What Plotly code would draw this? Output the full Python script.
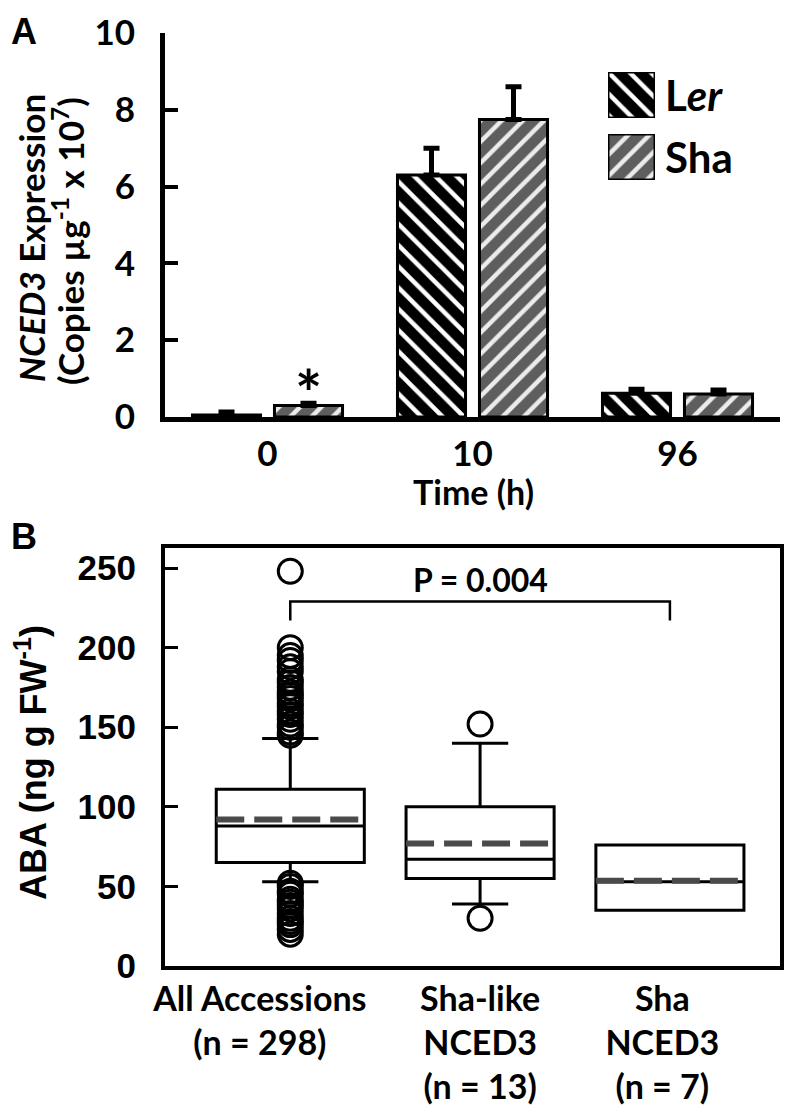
import plotly.graph_objects as go

# ---- panel A data: NCED3 expression (copies ug-1 x 10^7)
times = ["0", "10", "96"]
ler_vals = [0.05, 6.3, 0.62]
ler_err = [0.08, 0.7, 0.1]
sha_vals = [0.3, 7.75, 0.6]
sha_err = [0.06, 0.85, 0.1]

# ---- panel B data: ABA (ng g FW-1), summary stats per group
groups = ["All Accessions<br>(n = 298)", "Sha-like<br>NCED3<br>(n = 13)", "Sha<br>NCED3<br>(n = 7)"]
q1 = [65, 55, 35]
medians = [88, 67, 53]
q3 = [111, 100, 76]
lower_fence = [53, 39, 35]
upper_fence = [143, 140, 76]
means = [92, 77, 53.5]
outliers_all = [20, 23, 26, 28, 30, 33, 36, 38, 40, 42, 45, 47, 50, 52,
                145, 147, 150, 152, 155, 158, 160, 163, 165, 168, 170, 172,
                175, 178, 180, 185, 188, 192, 195, 200, 248]
outliers_shalike = [30, 152]
outliers_sha = []
p_text = "P = 0.004"

W, H = 797, 1107
OFF = 8  # page body margin in the browser
CAL = "Lato, 'Open Sans', sans-serif"
ARIAL = "'Liberation Sans', Arial, sans-serif"
LABEL_SHIFT = [-0.16, 0.0, -0.04]  # category labels sit a little left of the boxes


def px_x(p):
    return (p - OFF) / W


def px_y(p):
    return 1 - (p - OFF) / H


fig = go.Figure()

ler_pattern = dict(shape="\\", fgcolor="white", bgcolor="black", size=15, solidity=0.3, fillmode="replace")
sha_pattern = dict(shape="/", fgcolor="#ececec", bgcolor="#5e5e5e", size=15, solidity=0.3, fillmode="replace")

fig.add_trace(go.Bar(
    x=times, y=ler_vals, name="Ler",
    marker=dict(color="black", pattern=ler_pattern, line=dict(color="black", width=3)),
    error_y=dict(type="data", symmetric=False, array=ler_err, arrayminus=[0] * 3,
                 thickness=5, width=8, color="black"),
    showlegend=False, xaxis="x", yaxis="y",
))
fig.add_trace(go.Bar(
    x=times, y=sha_vals, name="Sha",
    marker=dict(color="#5e5e5e", pattern=sha_pattern, line=dict(color="black", width=3)),
    error_y=dict(type="data", symmetric=False, array=sha_err, arrayminus=[0] * 3,
                 thickness=5, width=8, color="black"),
    showlegend=False, xaxis="x", yaxis="y",
))

# legend swatches drawn as single bars on small hidden axes
fig.add_trace(go.Bar(x=[0], y=[1], width=[1], marker=dict(color="black", pattern=ler_pattern,
              line=dict(color="black", width=3)), showlegend=False, xaxis="x3", yaxis="y3"))
fig.add_trace(go.Bar(x=[0], y=[1], width=[1], marker=dict(color="#5e5e5e", pattern=sha_pattern,
              line=dict(color="black", width=3)), showlegend=False, xaxis="x4", yaxis="y4"))

# ---- panel B boxes
BOX_W = 0.78
for i in range(3):
    fig.add_trace(go.Box(
        x=[i], q1=[q1[i]], median=[medians[i]], q3=[q3[i]],
        lowerfence=[lower_fence[i]], upperfence=[upper_fence[i]],
        width=BOX_W, whiskerwidth=0.38, fillcolor="white",
        line=dict(color="black", width=3), boxpoints=False,
        showlegend=False, xaxis="x2", yaxis="y2",
    ))
    fig.add_trace(go.Scatter(
        x=[i - BOX_W / 2, i + BOX_W / 2], y=[means[i], means[i]], mode="lines",
        line=dict(color="#4a4a4a", width=6, dash="28px,10px"),
        showlegend=False, xaxis="x2", yaxis="y2",
    ))

for i, pts in enumerate([outliers_all, outliers_shalike, outliers_sha]):
    if pts:
        fig.add_trace(go.Scatter(
            x=[i] * len(pts), y=pts, mode="markers",
            marker=dict(symbol="circle-open", size=24, color="black", line=dict(width=3)),
            showlegend=False, xaxis="x2", yaxis="y2",
        ))

# significance bracket
fig.add_shape(type="path", xref="x2", yref="y2",
              path="M 0,217 L 0,229 L 2,229 L 2,217",
              line=dict(color="black", width=2.5))


def note(x, y, text, family, size, angle=0, xanchor="center", yanchor="middle"):
    return dict(x=px_x(x), y=px_y(y), xref="paper", yref="paper", text=text,
                textangle=angle, showarrow=False, xanchor=xanchor, yanchor=yanchor,
                font=dict(family=family, size=size, color="black"))


ann = [
    dict(x=1, y=229, xref="x2", yref="y2", text="<b>" + p_text + "</b>", showarrow=False,
         xanchor="center", yanchor="bottom", font=dict(family=CAL, size=32, color="black")),
    dict(x=0, y=sha_vals[0] + sha_err[0], xref="x", yref="y", xshift=41, yshift=-30,
         text="<b>*</b>", showarrow=False, xanchor="center", yanchor="bottom",
         font=dict(family=CAL, size=64, color="black")),
    note(9, 9, "<b>A</b>", ARIAL, 36, xanchor="left", yanchor="top"),
    note(9, 514, "<b>B</b>", ARIAL, 36, xanchor="left", yanchor="top"),
    note(31, 238, "<b><i>NCED3</i> Expression</b>", CAL, 35, angle=-90),
    note(68, 241, "<b>(Copies µg<sup>-1</sup> x 10<sup>7</sup>)</b>", CAL, 35, angle=-90),
    note(473, 492, "<b>Time (h)</b>", CAL, 34),
    note(31, 763, "<b>ABA (ng g FW<sup>-1</sup>)</b>", ARIAL, 36, angle=-90),
    note(663, 95, "<b>L<i>er</i></b>", CAL, 42, xanchor="left"),
    note(663, 157, "<b>Sha</b>", CAL, 42, xanchor="left"),
]

fig.update_layout(
    width=W, height=H,
    margin=dict(l=0, r=0, t=0, b=0, autoexpand=False),
    paper_bgcolor="white", plot_bgcolor="white",
    barmode="group", bargap=0.2, bargroupgap=0.17,
    annotations=ann,
    xaxis=dict(domain=[px_x(165), px_x(780)], anchor="y", range=[-0.5, 2.5], automargin=False,
               showline=True, linewidth=5, linecolor="black", ticks="",
               tickfont=dict(family=CAL, size=35, color="black", weight="bold"),
               ticklabelstandoff=2, showgrid=False, zeroline=False),
    yaxis=dict(domain=[px_y(417), px_y(33)], anchor="x", range=[0, 10], dtick=2, automargin=False,
               showline=True, linewidth=5, linecolor="black",
               ticks="inside", ticklen=13, tickwidth=4, tickcolor="black",
               tickfont=dict(family=CAL, size=35, color="black", weight="bold"),
               ticklabelstandoff=18, showgrid=False, zeroline=False),
    xaxis2=dict(domain=[px_x(165), px_x(780)], anchor="y2", range=[-0.66, 2.58], automargin=False,
                tickvals=[i + s for i, s in enumerate(LABEL_SHIFT)], ticktext=groups,
                showline=True, mirror=True, linewidth=4, linecolor="black", ticks="",
                tickfont=dict(family=CAL, size=34, color="black", weight="bold"),
                ticklabelstandoff=0, showgrid=False, zeroline=False),
    yaxis2=dict(domain=[px_y(966), px_y(548)], anchor="x2", range=[0, 262.6], dtick=50, automargin=False,
                showline=True, mirror=True, linewidth=4, linecolor="black",
                ticks="inside", ticklen=13, tickwidth=3, tickcolor="black",
                tickfont=dict(family=ARIAL, size=35, color="black", weight="bold"),
                ticklabelstandoff=18, showgrid=False, zeroline=False),
    xaxis3=dict(domain=[px_x(608), px_x(655)], anchor="y3", range=[-0.5, 0.5], visible=False),
    yaxis3=dict(domain=[px_y(118), px_y(72)], anchor="x3", range=[0, 1], visible=False),
    xaxis4=dict(domain=[px_x(608), px_x(655)], anchor="y4", range=[-0.5, 0.5], visible=False),
    yaxis4=dict(domain=[px_y(180), px_y(134)], anchor="x4", range=[0, 1], visible=False),
)

fig.write_html("out.html")
